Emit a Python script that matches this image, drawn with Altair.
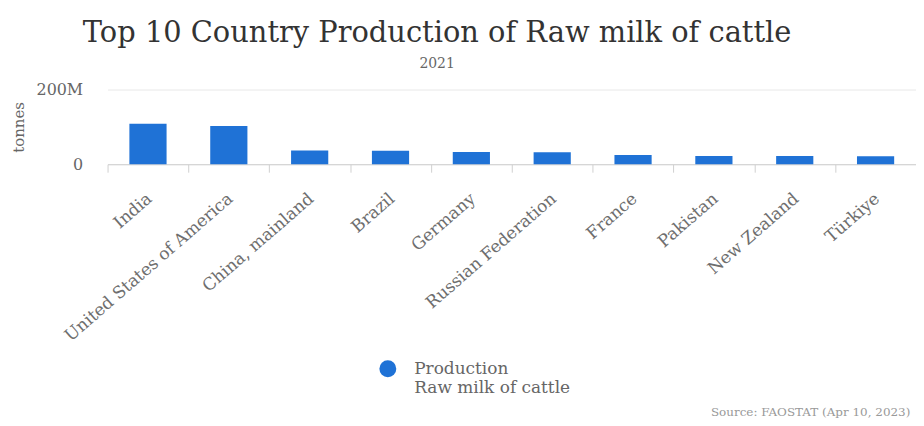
import altair as alt
import pandas as pd

countries = ["India", "United States of America", "China, mainland", "Brazil", "Germany",
             "Russian Federation", "France", "Pakistan", "New Zealand", "Türkiye"]
production = [108.3e6, 102.6e6, 36.8e6, 36.0e6, 32.5e6, 32.0e6, 24.7e6, 22.0e6, 21.9e6, 21.3e6]
series = ["Production"] * len(countries)
source_text = ["Source: FAOSTAT (Apr 10, 2023)"]

df = pd.DataFrame({"country": countries, "value": production, "series": series})
src = pd.DataFrame({"text": source_text})

FONT = "DejaVu Serif"
BLUE = "#1f72d6"
W = 812
BAND = W / len(countries)

bars = alt.Chart(df).mark_bar(color=BLUE).encode(
    x=alt.X("country:N", sort=countries, title=None,
            scale=alt.Scale(paddingInner=0.54, paddingOuter=0.27),
            axis=alt.Axis(labelAngle=-41, labelAlign="right", labelBaseline="top",
                          labelFont=FONT, labelFontSize=17, labelColor="#6e6e6e",
                          labelLimit=400,
                          tickOffset=-BAND / 2, labelOffset=BAND / 2 - 4,
                          tickColor="#d0d0d0", tickSize=8, domainColor="#d0d0d0",
                          labelPadding=18, grid=False)),
    y=alt.Y("value:Q", title="tonnes",
            scale=alt.Scale(domain=[0, 200e6], nice=False),
            axis=alt.Axis(values=[0, 200e6],
                          labelExpr="datum.value == 0 ? '0' : format(datum.value / 1e6, 'd') + 'M'",
                          ticks=False, tickSize=0,
                          domain=False, labelPadding=25, labelFont=FONT, labelFontSize=16,
                          labelColor="#666", titleFont=FONT, titleFontSize=15,
                          titleFontWeight="normal", titleColor="#666", titlePadding=10,
                          gridColor="#e8e8e8")),
    fill=alt.Fill("series:N", scale=alt.Scale(range=[BLUE]),
                  legend=alt.Legend(title=None, orient="none", legendX=273, legendY=272,
                                    symbolType="circle", symbolSize=289,
                                    symbolStrokeWidth=0, labelFont=FONT, labelFontSize=17,
                                    labelColor="#666", labelOffset=18, labelLimit=400,
                                    labelExpr="['Production', 'Raw milk of cattle']",
                                    labelBaseline="middle", padding=0))
)

source = alt.Chart(src).mark_text(font=FONT, fontSize=12, color="#999", align="left",
                                  baseline="middle").encode(
    text="text:N", x=alt.value(606), y=alt.value(324)
)

chart = alt.layer(bars, source).properties(
    width=W, height=75,
    padding={"left": 3, "top": 10, "right": 0, "bottom": 0},
    title=alt.TitleParams(
        text="Top 10 Country Production of Raw milk of cattle",
        subtitle="2021", font=FONT, fontSize=29, fontWeight="normal", color="#333",
        subtitleFont=FONT, subtitleFontSize=14, subtitleColor="#666",
        anchor="middle", frame="group", dx=-75, offset=11, subtitlePadding=9)
).configure_view(stroke=None)

chart.save("out.html", embed_options={"renderer": "svg", "actions": False})
